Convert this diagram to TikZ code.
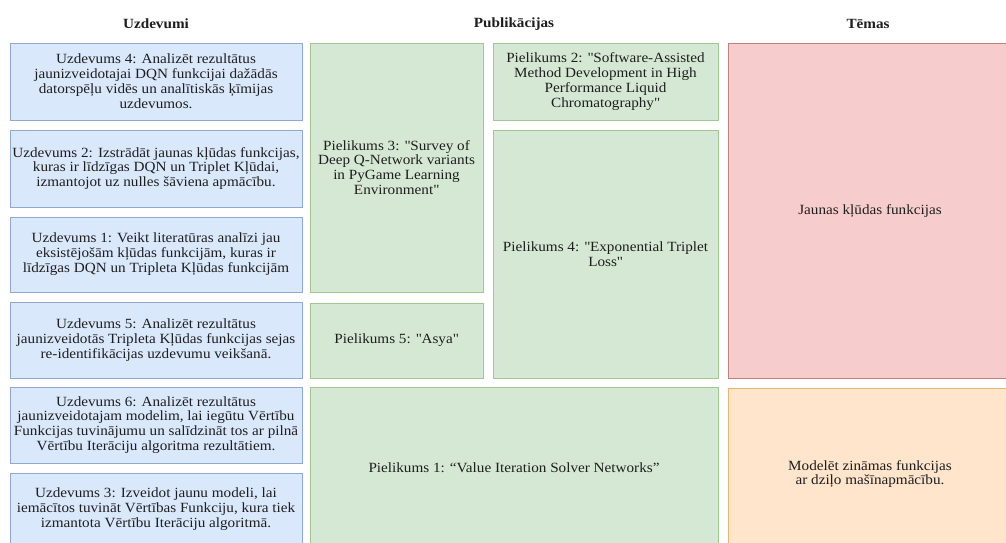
\documentclass[tikz,border=0pt]{standalone}
\usepackage{fontspec}
\setmainfont{Liberation Serif}[FakeStretch=1.08]
\usepackage{xcolor}
\usetikzlibrary{positioning}
\definecolor{taskfill}{HTML}{DAE8FC}
\definecolor{taskline}{HTML}{8FA9D0}
\definecolor{pubfill}{HTML}{D5E8D4}
\definecolor{publine}{HTML}{A3C493}
\definecolor{redfill}{HTML}{F6CDCC}
\definecolor{redline}{HTML}{C27F7C}
\definecolor{orfill}{HTML}{FEE5CB}
\definecolor{orline}{HTML}{E5B870}
\definecolor{ink}{HTML}{1E1E1E}
\newcommand{\qt}{\textquotedbl}
\tikzset{
  taskbox/.style={fill=taskfill, draw=taskline, line width=0.6pt},
  pubbox/.style={fill=pubfill, draw=publine, line width=0.6pt},
  redbox/.style={fill=redfill, draw=redline, line width=0.6pt},
  orbox/.style={fill=orfill, draw=orline, line width=0.6pt},
  boxtext/.style={align=center, text=ink, font=\fontsize{10}{10.6}\selectfont, inner sep=0pt},
  headtext/.style={text=ink, font=\fontsize{10}{12}\selectfont\bfseries, inner sep=0pt}
}
\begin{document}
\begin{tikzpicture}[x=0.25mm, y=-0.25mm]
        \useasboundingbox (0,0) rectangle (1006,543);
        \clip (0,0) rectangle (1006,543);
        \fill[white] (0,0) rectangle (1006,543);
        % Column headings
        \node[headtext] (hu) at (156,24) {Uzdevumi};
        \node[headtext] (hp) at (514,24) {Publikācijas};
        \node[headtext] (ht) at (868,24) {Tēmas};
        % Task boxes
        \draw[taskbox] (10,43) rectangle (302,120);
        \draw[taskbox] (10,130) rectangle (302,207);
        \draw[taskbox] (10,217) rectangle (302,292);
        \draw[taskbox] (10,302) rectangle (302,378);
        \draw[taskbox] (10,387) rectangle (302,463);
        \draw[taskbox] (10,473) rectangle (302,560);
        \node[boxtext] (u4) at (156,81.5) {Uzdevums 4: Analizēt rezultātus\\jaunizveidotajai DQN funkcijai dažādās\\datorspēļu vidēs un analītiskās ķīmijas\\uzdevumos.};
        \node[boxtext] (u2) at (156,168.5) {Uzdevums 2: Izstrādāt jaunas kļūdas funkcijas,\\kuras ir līdzīgas DQN un Triplet Kļūdai,\\izmantojot uz nulles šāviena apmācību.};
        \node[boxtext] (u1) at (156,254.5) {Uzdevums 1: Veikt literatūras analīzi jau\\eksistējošām kļūdas funkcijām, kuras ir\\līdzīgas DQN un Tripleta Kļūdas funkcijām};
        \node[boxtext] (u5) at (156,340) {Uzdevums 5: Analizēt rezultātus\\jaunizveidotās Tripleta Kļūdas funkcijas sejas\\re-identifikācijas uzdevumu veikšanā.};
        \node[boxtext] (u6) at (156,425) {Uzdevums 6: Analizēt rezultātus\\jaunizveidotajam modelim, lai iegūtu Vērtību\\Funkcijas tuvinājumu un salīdzināt tos ar pilnā\\Vērtību Iterāciju algoritma rezultātiem.};
        \node[boxtext] (u3) at (156,509) {Uzdevums 3: Izveidot jaunu modeli, lai\\iemācītos tuvināt Vērtības Funkciju, kura tiek\\izmantota Vērtību Iterāciju algoritmā.};
        % Publication boxes
        \draw[pubbox] (310,43) rectangle (483,292);
        \draw[pubbox] (493,43) rectangle (718,120);
        \draw[pubbox] (493,130) rectangle (718,378);
        \draw[pubbox] (310,303) rectangle (483,378);
        \draw[pubbox] (310,387) rectangle (718,560);
        \node[boxtext] (p3) at (396.5,167.5) {Pielikums 3: \qt Survey of\\Deep Q-Network variants\\in PyGame Learning\\Environment\qt};
        \node[boxtext] (p2) at (605.5,81.5) {Pielikums 2: \qt Software-Assisted\\Method Development in High\\Performance Liquid\\Chromatography\qt};
        \node[boxtext] (p4) at (605.5,254) {Pielikums 4: \qt Exponential Triplet\\Loss\qt};
        \node[boxtext] (p5) at (396.5,340.5) {Pielikums 5: \qt Asya\qt};
        \node[boxtext] (p1) at (514,468) {Pielikums 1: “Value Iteration Solver Networks”};
        % Topic boxes
        \draw[redbox] (728,43) rectangle (1015,378);
        \draw[orbox] (728,388) rectangle (1015,560);
        \node[boxtext] (t1) at (870,211) {Jaunas kļūdas funkcijas};
        \node[boxtext] (t2) at (870,474) {Modelēt zināmas funkcijas\\ar dziļo mašīnapmācību.};
      \end{tikzpicture}
\end{document}
